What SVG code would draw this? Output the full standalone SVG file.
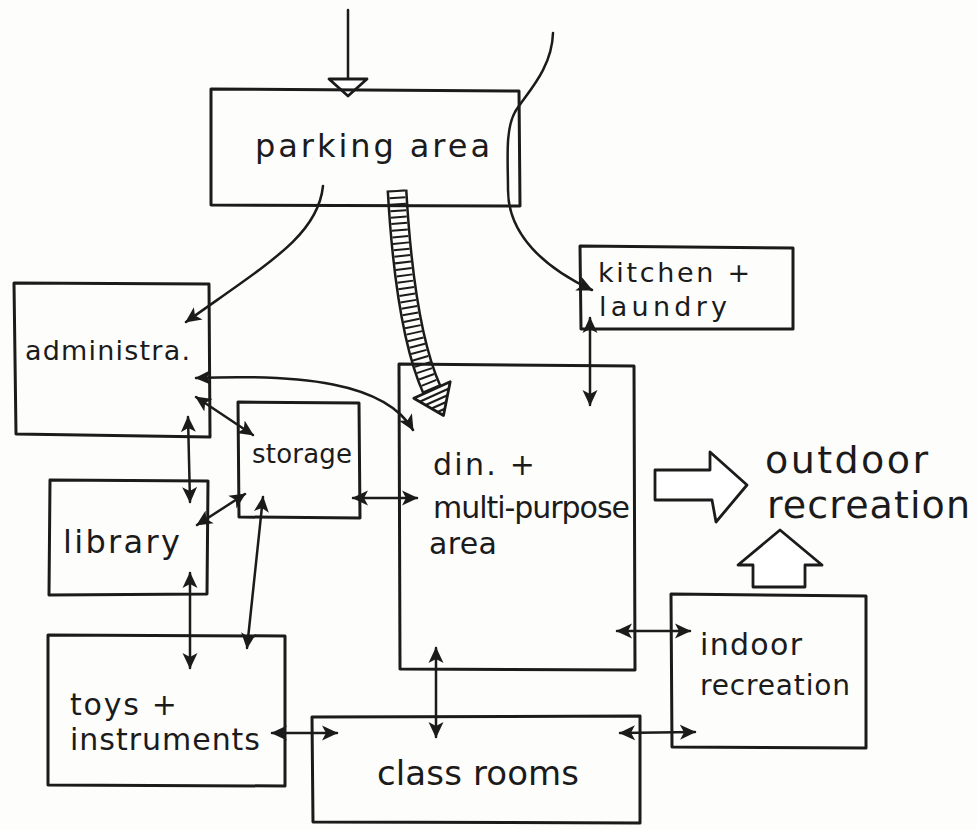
<svg xmlns="http://www.w3.org/2000/svg" width="977" height="829" viewBox="0 0 977 829">
<defs>
<style>
.box{fill:none;stroke:#1b1b1b;stroke-width:3;stroke-linejoin:round;stroke-linecap:round}
.con{fill:none;stroke:#1b1b1b;stroke-width:2.5;stroke-linecap:round}
.dbl{marker-start:url(#ah);marker-end:url(#ah)}
.one{marker-end:url(#ah)}
.hol{fill:#fff;stroke:#1b1b1b;stroke-width:2.8;stroke-linejoin:round}
text{font-family:"DejaVu Sans","Liberation Sans",sans-serif;fill:#1b1b1b}
</style>
<marker id="ah" viewBox="0 0 16 16" refX="15" refY="8" markerWidth="16" markerHeight="16" markerUnits="userSpaceOnUse" orient="auto-start-reverse">
<path d="M0,0.5 L16,8 L0,15.5 L4,8 Z" fill="#1b1b1b"/>
</marker>
</defs>
<rect width="977" height="829" fill="#fdfdfb"/>

<g id="connectors">
<line class="con" x1="348" y1="10" x2="348" y2="94"/>
<polygon class="hol" points="329,79 367,79 348,96" fill="none"/>
<path class="con one" d="M553,33 C552,70 525,95 515,112 C505,130 508,160 508,190 C508,235 545,268 592,290"/>
<path class="con one" d="M323,186 C318,235 270,262 186,322"/>
<g id="hatched-arrow">
<path d="M397,190 Q405,330 432,390" fill="none" stroke="#1b1b1b" stroke-width="21"/>
<path d="M397,190 Q405,330 432,390" fill="none" stroke="#fdfdfb" stroke-width="16"/>
<path d="M397,190 Q405,330 432,390" fill="none" stroke="#1b1b1b" stroke-width="16" stroke-dasharray="2 4.5"/>
<polygon points="413.8,398.2 450.2,381.8 443.5,415.5" fill="#fdfdfb" stroke="#1b1b1b" stroke-width="2.8" stroke-linejoin="round"/>
<path d="M419.7,401.7 L448.9,388.5 M425.7,405.1 L447.5,395.3 M431.6,408.6 L446.2,402 M437.6,412 L444.8,408.8" stroke="#1b1b1b" stroke-width="2.2"/>
</g>
<path class="con dbl" d="M590,318 L590,405"/>
<path class="con dbl" d="M196,378 C300,374 385,382 413,430"/>
<path class="con dbl" d="M196,397 L253,435"/>
<path class="con dbl" d="M188,417 L190,502"/>
<path class="con dbl" d="M245,494 L197,525"/>
<path class="con dbl" d="M353,498 L417,498"/>
<path class="con dbl" d="M263,497 L247,648"/>
<path class="con dbl" d="M190,573 L190,668"/>
<path class="con dbl" d="M272,733 L337,733"/>
<path class="con dbl" d="M436,648 L436,737"/>
<path class="con dbl" d="M617,631 L690,631"/>
<path class="con dbl" d="M620,733 L695,732"/>
<polygon class="hol" points="655,470 710,470 710,452 747,485 716,522 712,500 655,500"/>
<polygon class="hol" points="753,587 753,565 738,565 780,530 822,565 805,565 805,587"/>
</g>

<g id="parking">
<path class="box" d="M211,89 L519,91 L520,206 L211,205 Z"/>
<text x="255" y="157" font-size="32" textLength="235" lengthAdjust="spacing">parking area</text>
</g>
<g id="kitchen">
<path class="box" d="M580,246 L793,248 L793,329 L581,329 Z"/>
<text x="598" y="282" font-size="27" textLength="152" lengthAdjust="spacing">kitchen +</text>
<text x="599" y="316" font-size="27" textLength="128" lengthAdjust="spacing">laundry</text>
</g>
<g id="administration">
<path class="box" d="M14,283 L209,284 L210,437 L16,434 Z"/>
<text x="25" y="360" font-size="27" textLength="165" lengthAdjust="spacing">administra.</text>
</g>
<g id="storage">
<path class="box" d="M238,402 L359,403 L360,518 L239,517 Z"/>
<text x="252" y="463" font-size="26" textLength="100" lengthAdjust="spacing">storage</text>
</g>
<g id="library">
<path class="box" d="M50,480 L208,481 L207,594 L49,595 Z"/>
<text x="63" y="553" font-size="32" textLength="117" lengthAdjust="spacing">library</text>
</g>
<g id="dining">
<path class="box" d="M399,364 L634,366 L635,670 L400,669 Z"/>
<text x="433" y="475" font-size="30" textLength="102" lengthAdjust="spacing">din. +</text>
<text x="433" y="518" font-size="30" textLength="197" lengthAdjust="spacing">multi-purpose</text>
<text x="429" y="554" font-size="30" textLength="68" lengthAdjust="spacing">area</text>
</g>
<g id="outdoor">
<text x="765" y="473" font-size="38" textLength="163" lengthAdjust="spacing">outdoor</text>
<text x="767" y="518" font-size="38" textLength="203" lengthAdjust="spacing">recreation</text>
</g>
<g id="indoor">
<path class="box" d="M671,594 L866,596 L866,748 L672,747 Z"/>
<text x="700" y="655" font-size="30" textLength="102" lengthAdjust="spacing">indoor</text>
<text x="700" y="695" font-size="28" textLength="150" lengthAdjust="spacing">recreation</text>
</g>
<g id="toys">
<path class="box" d="M48,635 L285,636 L285,786 L48,785 Z"/>
<text x="70" y="715" font-size="30" textLength="107" lengthAdjust="spacing">toys +</text>
<text x="70" y="750" font-size="30" textLength="190" lengthAdjust="spacing">instruments</text>
</g>
<g id="classrooms">
<path class="box" d="M312,717 L640,716 L640,823 L313,822 Z"/>
<text x="377" y="785" font-size="34" textLength="202" lengthAdjust="spacing">class rooms</text>
</g>
</svg>
